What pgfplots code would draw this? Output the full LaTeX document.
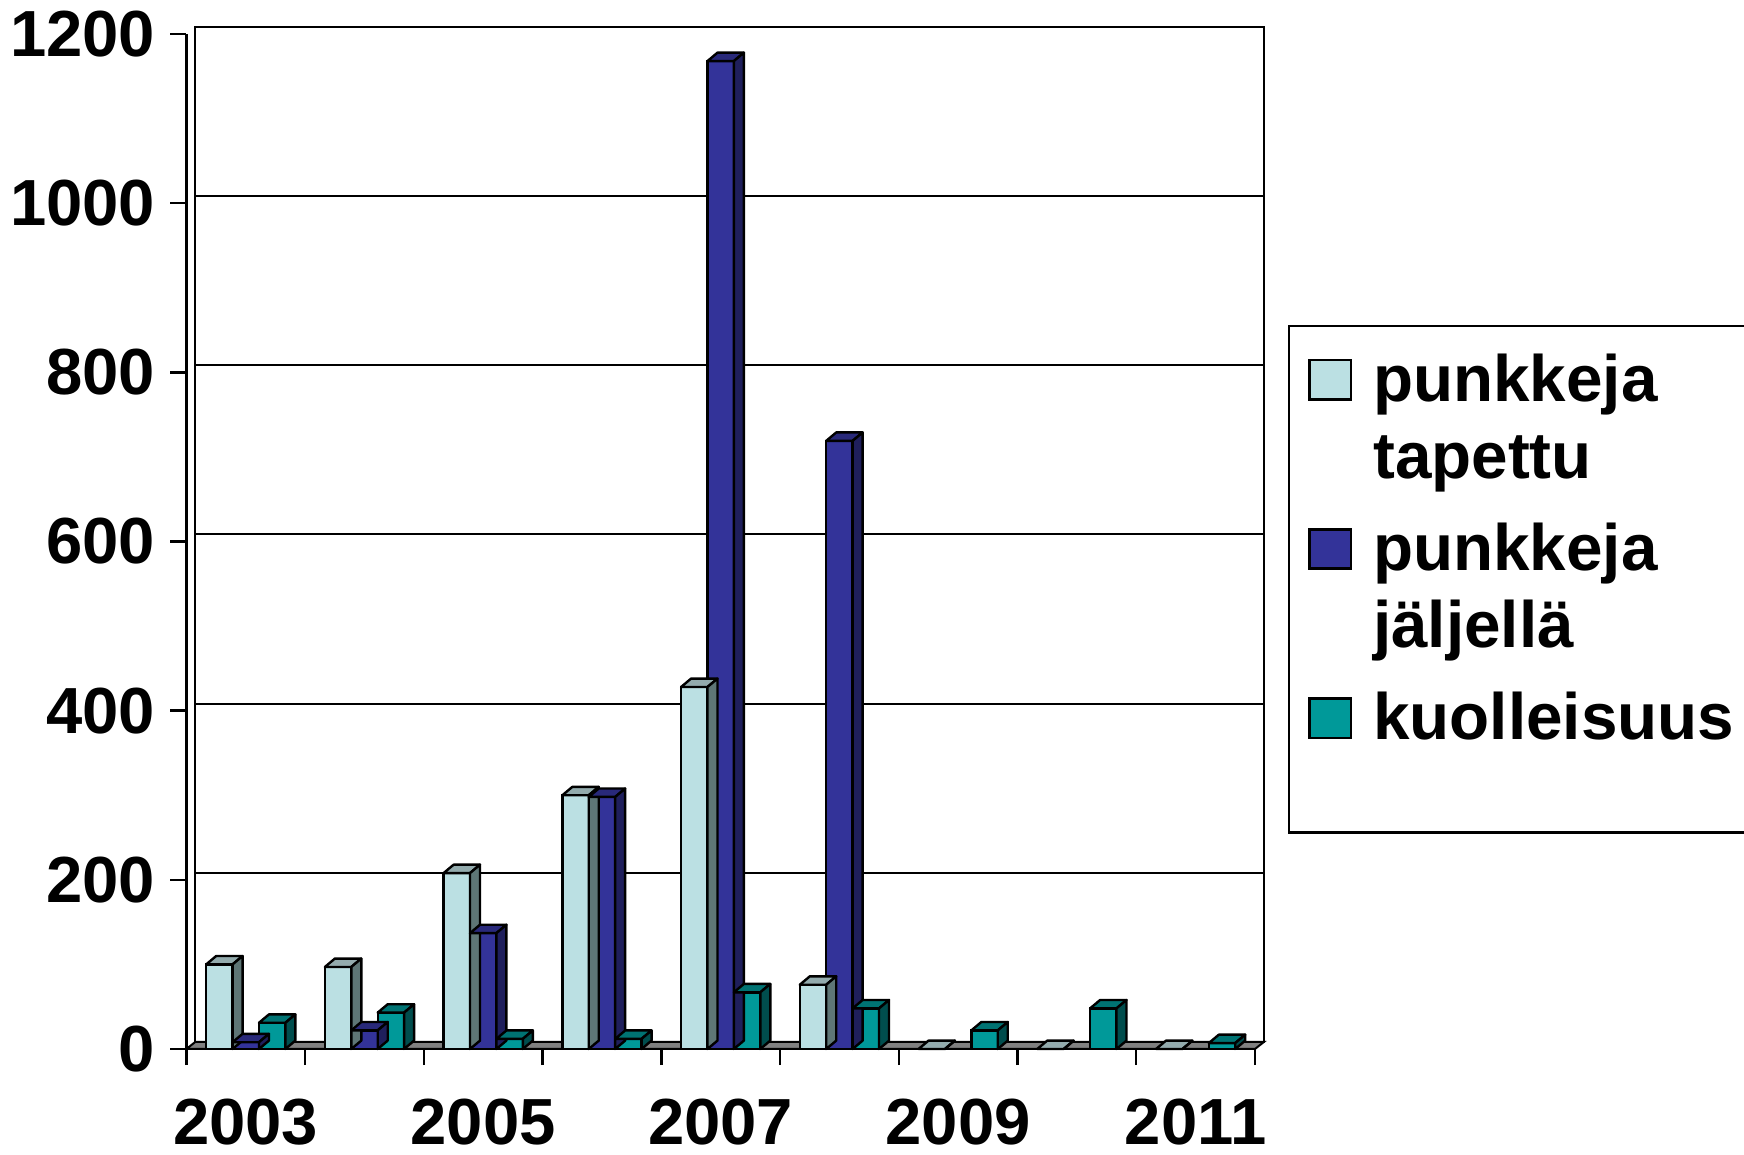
\documentclass[border=0pt]{standalone}
\usepackage{pgfplots}
\pgfplotsset{compat=1.18}
\usepackage{pgfplotstable}
\usepackage{fontspec}
\setmainfont{Liberation Sans}

\definecolor{lf}{HTML}{BBE0E3}
\definecolor{lt}{HTML}{93ABAD}
\definecolor{ls}{HTML}{5E7676}
\definecolor{df}{HTML}{333399}
\definecolor{dt}{HTML}{29297A}
\definecolor{ds}{HTML}{1F1F5C}
\definecolor{tf}{HTML}{009999}
\definecolor{tt}{HTML}{007373}
\definecolor{ts}{HTML}{004D4D}
\definecolor{floorc}{HTML}{808080}

\pgfdeclareplotmark{none3d}{}

\pgfplotstableread{
x a b c
0 100 8 31
1 97 22 43
2 208 137 12
3 300 298 12
4 428 1168 67
5 76 719 48
6 0 0 22
7 0 0 48
8 0 0 7
}\data

\pgfplotsset{
  faces/.style n args={3}{%
    forget plot, only marks, scatter, mark=none3d,
    visualization depends on={rawy \as \ry},
    scatter/@pre marker code/.code={%
      \pgfmathsetmacro\hh{\ry*0.2114583}%
      \filldraw[fill=#2,draw=black,line width=0.6pt,line join=round]
        ({#1pt},0pt) -- ({#1pt+2.5pt},2.1pt) -- ({#1pt+9.1pt},2.1pt) -- ({#1pt+6.6pt},0pt) -- cycle;
      \filldraw[fill=#3,draw=black,line width=0.6pt,line join=round]
        ({#1pt+6.6pt},0pt) -- ({#1pt+9.1pt},2.1pt) -- ({#1pt+9.1pt},{2.1pt-\hh pt}) -- ({#1pt+6.6pt},{-\hh pt}) -- cycle;
    },
    scatter/@post marker code/.code={},
  },
}
\setlength\fboxsep{0pt}
\setlength\fboxrule{0.6pt}
\newcommand\sq[1]{\raisebox{0.75pt}{\fcolorbox{black}{#1}{\rule{0pt}{9.2pt}\rule{9.8pt}{0pt}}}}

\begin{document}
\begin{tikzpicture}
\begin{axis}[
  at={(46.6pt,26.5pt)}, anchor=south west,
  scale only axis, width=267.15pt, height=253.75pt,
  xmin=-0.5, xmax=8.5, ymin=0, ymax=1200,
  clip=false,
  axis x line*=bottom, axis y line*=left,
  axis line style={line width=0.6pt},
  xtick={-0.5,0.5,...,8.5}, xticklabels={},
  extra x ticks={0,2,4,6,8},
  extra x tick labels={2003,2005,2007,2009,2011},
  extra x tick style={major tick length=0pt, grid=none},
  ytick={0,200,...,1200},
  tick align=outside, major tick length=4pt,
  tick style={black, line width=0.6pt},
  ymajorgrids, major grid style={black, line width=0.5pt, xshift=2.2pt, yshift=1.75pt},
  tick label style={font=\fontsize{16.3}{19}\selectfont\bfseries},
  /pgf/number format/assume math mode=true,
  /pgf/number format/1000 sep={},
  xticklabel style={anchor=north, inner sep=0pt, yshift=-12.4pt},
  yticklabel style={anchor=east, inner sep=0pt, xshift=-3.6pt},
]
\filldraw[fill=floorc, draw=black, line width=0.5pt] (axis cs:-0.5,0) -- ([xshift=2.2pt,yshift=1.75pt]axis cs:-0.5,0) -- ([xshift=2.2pt,yshift=1.75pt]axis cs:8.5,0) -- (axis cs:8.5,0) -- cycle;
\draw[line width=0.5pt] ([xshift=2.2pt,yshift=1.75pt]axis cs:-0.5,0) rectangle ([xshift=2.2pt,yshift=1.75pt]axis cs:8.5,1200);

\addplot[faces={-9.9}{lt}{ls}] table[x=x,y=a]{\data};
\addplot[ybar, bar width=6.6pt, bar shift=-6.6pt, fill=lf, draw=black, line width=0.6pt] table[x=x,y=a]{\data};

\addplot[faces={-3.3}{dt}{ds}, restrict y to domain=0.5:2000] table[x=x,y=b]{\data};
\addplot[ybar, bar width=6.6pt, bar shift=0pt, fill=df, draw=black, line width=0.6pt] table[x=x,y=b]{\data};

\addplot[faces={3.3}{tt}{ts}] table[x=x,y=c]{\data};
\addplot[ybar, bar width=6.6pt, bar shift=6.6pt, fill=tf, draw=black, line width=0.6pt] table[x=x,y=c]{\data};
\end{axis}
\node[draw=black, line width=0.6pt, inner sep=0pt, anchor=north west,
      font=\fontsize{16.4}{18.75}\selectfont\bfseries] at (322pt,207.5pt) {%
  \renewcommand\arraystretch{0}%
  \begin{tabular}{@{\hspace{4.75pt}}l@{\hspace{5.25pt}}l@{\hspace{20pt}}}
  \sq{lf} & \rule[-5pt]{0pt}{23.75pt}punkkeja\\
          & \rule[-5pt]{0pt}{19.3pt}tapettu\\
  \sq{df} & \rule[-5pt]{0pt}{23pt}punkkeja\\
          & \rule[-5pt]{0pt}{19.3pt}jäljellä\\
  \sq{tf} & \rule[-23.2pt]{0pt}{41.2pt}kuolleisuus\\
  \end{tabular}};
\pgfresetboundingbox
\path[use as bounding box] (0pt,0pt) rectangle (436pt,288.75pt);
\end{tikzpicture}
\end{document}
